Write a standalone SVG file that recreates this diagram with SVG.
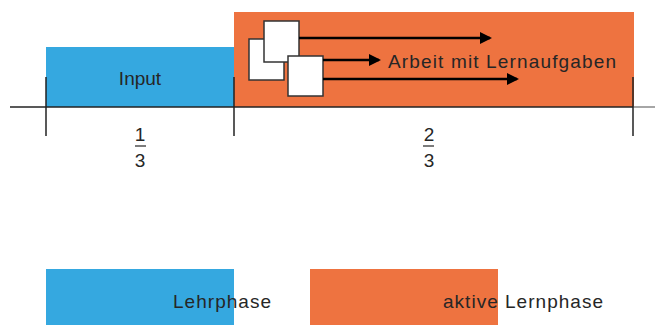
<svg xmlns="http://www.w3.org/2000/svg" width="655" height="325" viewBox="0 0 655 325">
<style>
.t{font-family:"Liberation Sans",Arial,sans-serif;font-size:19px;fill:#262626}
.blue{fill:#35A8E0}
.orange{fill:#EE7340}
.ax{stroke:#222;stroke-width:1.5;fill:none}
.sq{fill:#fff;stroke:#333;stroke-width:1.5}
.arr{stroke:#000;stroke-width:2.5;fill:none;marker-end:url(#ah)}
</style>
<defs>
<marker id="ah" markerWidth="12" markerHeight="12" refX="10" refY="6" orient="auto" markerUnits="userSpaceOnUse">
<path d="M0,0 L12,6 L0,12 Z" fill="#000"/>
</marker>
</defs>
<g id="lehrphase-block">
<rect class="blue" x="46" y="47" width="188" height="60"/>
<text class="t" x="140" y="85" text-anchor="middle">Input</text>
</g>
<g id="lernphase-block">
<rect class="orange" x="234" y="12" width="400" height="95"/>
<text class="t" x="388" y="68" textLength="228" lengthAdjust="spacing">Arbeit mit Lernaufgaben</text>
</g>
<g id="cards">
<rect class="sq" x="249" y="39" width="35" height="41"/>
<rect class="sq" x="264" y="21" width="35" height="41"/>
<rect class="sq" x="288" y="56" width="35" height="40"/>
</g>
<g id="connectors">
<line class="arr" x1="299" y1="38" x2="490" y2="38"/>
<line class="arr" x1="323" y1="60" x2="379" y2="60"/>
<line class="arr" x1="323" y1="79" x2="517" y2="79"/>
</g>
<g id="axis">
<line class="ax" x1="10" y1="107" x2="633" y2="107"/>
<line x1="633" y1="107" x2="655" y2="107" stroke="#888" stroke-width="1.5"/>
<line class="ax" x1="46" y1="77" x2="46" y2="136"/>
<line class="ax" x1="234" y1="77" x2="234" y2="136"/>
<line class="ax" x1="633" y1="77" x2="633" y2="136"/>
</g>
<g id="fraction-1-3">
<text class="t" x="140" y="141" text-anchor="middle">1</text>
<line x1="135" y1="146" x2="146" y2="146" stroke="#262626" stroke-width="1.2"/>
<text class="t" x="140" y="167" text-anchor="middle">3</text>
</g>
<g id="fraction-2-3">
<text class="t" x="429" y="141" text-anchor="middle">2</text>
<line x1="423" y1="146" x2="434" y2="146" stroke="#262626" stroke-width="1.2"/>
<text class="t" x="429" y="167" text-anchor="middle">3</text>
</g>
<g id="legend-lehrphase">
<rect class="blue" x="46" y="269" width="188" height="56"/>
<text class="t" x="173" y="308" textLength="98" lengthAdjust="spacing">Lehrphase</text>
</g>
<g id="legend-lernphase">
<rect class="orange" x="310" y="269" width="188" height="56"/>
<text class="t" x="443" y="308" textLength="160" lengthAdjust="spacing">aktive Lernphase</text>
</g>
</svg>
